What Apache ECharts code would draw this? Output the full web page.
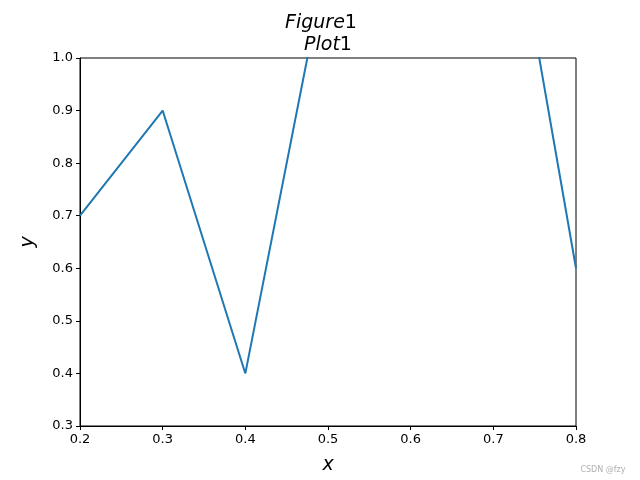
<!DOCTYPE html>
<html><head><meta charset="utf-8">
<script src="https://cdn.jsdelivr.net/npm/echarts@6/dist/echarts.min.js"></script>
<style>html,body{margin:0;padding:0;background:#fff}#c{width:640px;height:480px}</style>
</head><body><div id="c"></div>
<script>
const xValues = [0.2, 0.3, 0.4, 0.5, 0.6, 0.7, 0.8];
const yValues = [0.7, 0.9, 0.4, 1.2, 1.3, 1.5, 0.6];
const xTicks = [0.2, 0.3, 0.4, 0.5, 0.6, 0.7, 0.8];
const yTicks = [0.3, 0.4, 0.5, 0.6, 0.7, 0.8, 0.9, 1.0];

const font = 'DejaVu Sans';
const chart = echarts.init(document.getElementById('c'), null, {renderer: 'canvas'});
const data = xValues.map((x, i) => [x, yValues[i]]);
const rich = {
  i: {fontFamily: font, fontStyle: 'italic', fontWeight: 'normal', fontSize: 19, color: '#000'},
  n: {fontFamily: font, fontStyle: 'normal', fontWeight: 'normal', fontSize: 19, color: '#000'}
};
chart.setOption({
  animation: false,
  backgroundColor: '#fff',
  title: [
    {text: '{i|Figure}{n|1}', left: 316, top: 9, textAlign: 'center', textStyle: {fontWeight: 'normal', rich: rich}},
    {text: '{i|Plot}{n|1}', left: 323, top: 31, textAlign: 'center', textStyle: {fontWeight: 'normal', rich: rich}},
    {text: 'CSDN @fzy', left: 598, top: 461, textAlign: 'center', textStyle: {fontFamily: font, fontSize: 8, fontWeight: 'normal', color: '#b0b0b0'}}
  ],
  grid: {left: 80, right: 64, top: 58, bottom: 53, show: true, borderColor: '#000', borderWidth: 1, backgroundColor: 'transparent'},
  xAxis: {
    type: 'value', min: 0.2, max: 0.8, interval: 0.1,
    name: 'x', nameLocation: 'middle', nameGap: 30,
    nameTextStyle: {fontFamily: font, fontStyle: 'italic', fontSize: 19, color: '#000'},
    axisLine: {show: true, onZero: false, lineStyle: {color: '#000', width: 1}},
    axisTick: {show: true, length: 4, lineStyle: {color: '#000'}},
    splitLine: {show: false},
    axisLabel: {fontFamily: font, fontSize: 13, color: '#000', margin: 7,
      formatter: v => { const t = xTicks.find(t => Math.abs(t - v) < 1e-9); return t === undefined ? '' : t.toFixed(1); }}
  },
  yAxis: {
    type: 'value', min: 0.3, max: 1.0, interval: 0.1,
    name: 'y', nameLocation: 'middle', nameGap: 42, nameRotate: 90,
    nameTextStyle: {fontFamily: font, fontStyle: 'italic', fontSize: 19, color: '#000'},
    axisLine: {show: true, onZero: false, lineStyle: {color: '#000', width: 1}},
    axisTick: {show: true, length: 4, lineStyle: {color: '#000'}},
    splitLine: {show: false},
    axisLabel: {fontFamily: font, fontSize: 13, color: '#000', margin: 7,
      formatter: v => { const t = yTicks.find(t => Math.abs(t - v) < 1e-9); return t === undefined ? '' : t.toFixed(1); }}
  },
  series: [{
    type: 'line', data: data, showSymbol: false, clip: true,
    lineStyle: {color: '#1f77b4', width: 2}, itemStyle: {color: '#1f77b4'}
  }]
});
</script></body></html>
